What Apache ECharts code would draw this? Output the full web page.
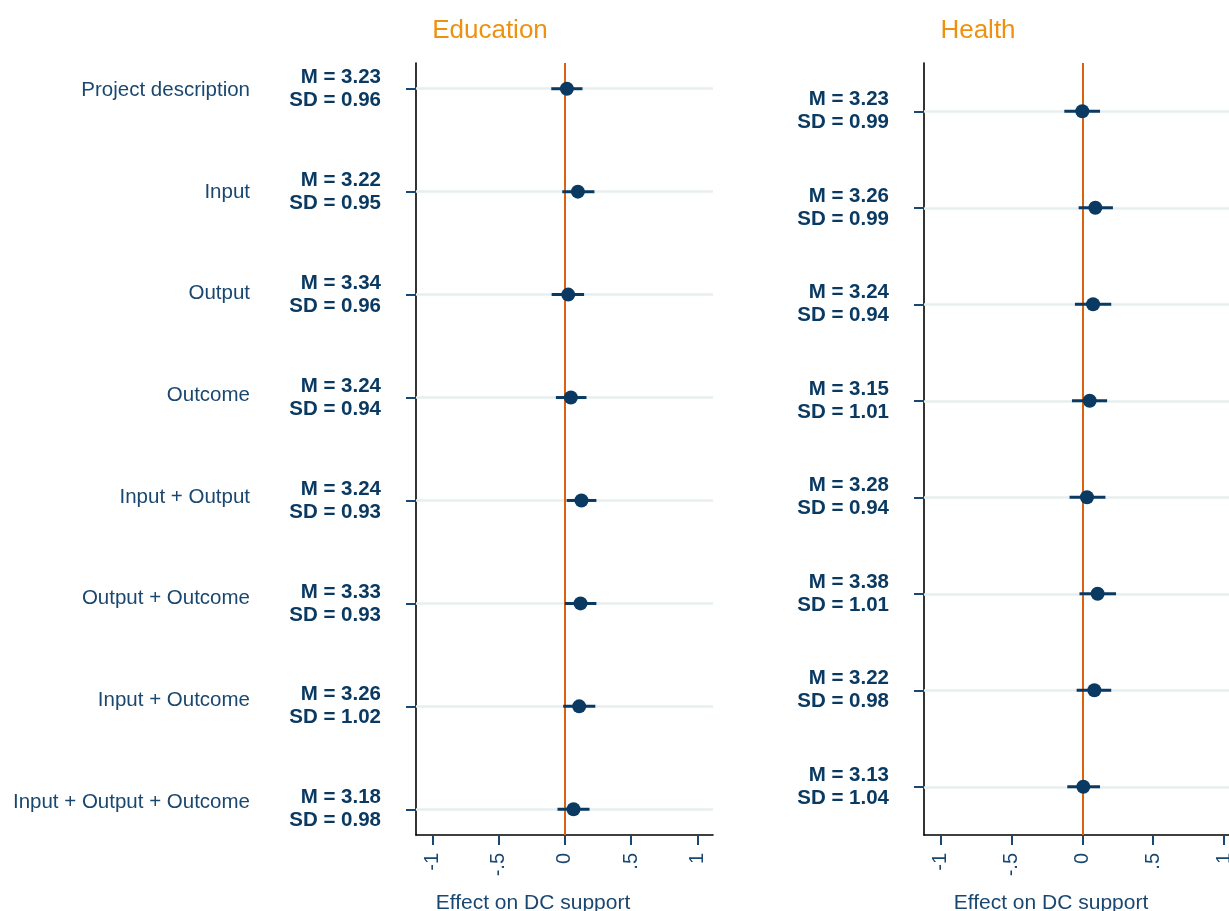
<!DOCTYPE html>
<html><head><meta charset="utf-8">
<script src="https://cdn.jsdelivr.net/npm/echarts@6/dist/echarts.min.js"></script>
<style>html,body{margin:0;padding:0;background:#fff;overflow:hidden}#c{width:1229px;height:911px}</style>
</head><body><div id="c"></div>
<script>
// ---------- data ----------
const categories = ['Project description','Input','Output','Outcome','Input + Output','Output + Outcome','Input + Outcome','Input + Output + Outcome'];
const rows = [1,2,3,4,5,6,7,8];
const panelTitles = ['Education','Health'];
const xAxisTitle = 'Effect on DC support';
const xTickValues = [-1,-0.5,0,0.5,1];
const xTickLabels = ['-1','-.5','0','.5','1'];

const eduMean = [3.23,3.22,3.34,3.24,3.24,3.33,3.26,3.18];
const eduSD   = [0.96,0.95,0.96,0.94,0.93,0.93,1.02,0.98];
const eduEst  = [0.015,0.098,0.025,0.045,0.125,0.118,0.108,0.065];
const eduLo   = [-0.103,-0.02,-0.10,-0.068,0.013,0.0,-0.013,-0.056];
const eduHi   = [0.133,0.223,0.145,0.163,0.238,0.238,0.23,0.186];

const hltMean = [3.23,3.26,3.24,3.15,3.28,3.38,3.22,3.13];
const hltSD   = [0.99,0.99,0.94,1.01,0.94,1.01,0.98,1.04];
const hltEst  = [0.0,0.092,0.076,0.052,0.033,0.108,0.085,0.007];
const hltLo   = [-0.127,-0.026,-0.052,-0.073,-0.09,-0.02,-0.04,-0.106];
const hltHi   = [0.125,0.216,0.204,0.175,0.163,0.238,0.204,0.125];

// ---------- styles ----------
const FONT = '"Liberation Sans", Arial, Helvetica, sans-serif';
const NAVY = '#1a476f';
const DARK = '#0a3a62';
const ORANGE = '#ef9110';
const ZERO = '#dc620f';
const GRIDC = '#e7eeef';

const chart = echarts.init(document.getElementById('c'), null, {renderer:'canvas'});

function xAxisFor(gridIndex, min, max, padRight) {
  return {
    type:'value', gridIndex, min, max,
    axisLine:{show:true, onZero:false, lineStyle:{color:'#000', width:1.6}},
    axisTick:{show:true, customValues:xTickValues, length:10, lineStyle:{color:NAVY, width:2}},
    axisLabel:{show:true, customValues:xTickValues, rotate:90, margin:18, fontSize:20, color:NAVY, fontFamily:FONT,
      formatter: v => xTickLabels[xTickValues.indexOf(v)]},
    splitLine:{show:false},
    name:xAxisTitle, nameLocation:'middle', nameGap:58,
    nameTextStyle:{fontSize:21, color:NAVY, fontFamily:FONT, padding:[0,padRight,0,0]}
  };
}
function statAxis(gridIndex, min, max, means, sds) {
  return {
    type:'value', gridIndex, min, max, inverse:true, position:'left',
    axisLine:{show:true, onZero:false, lineStyle:{color:'#000', width:1.6}},
    axisTick:{show:true, customValues:rows, length:10, lineStyle:{color:NAVY, width:2}},
    axisLabel:{show:true, customValues:rows, margin:35, fontSize:20.5, fontWeight:'bold', lineHeight:23,
      color:DARK, fontFamily:FONT, align:'right', padding:[0,0,10,0],
      formatter: v => 'M = ' + means[v-1].toFixed(2) + '\nSD = ' + sds[v-1].toFixed(2)},
    splitLine:{show:false}
  };
}
function panelSeries(gridIdx, yIdx, est, lo, hi) {
  return [
    {
      type:'scatter', xAxisIndex:gridIdx, yAxisIndex:yIdx, data:[], z:1, silent:true,
      markLine:{
        silent:true, z:1, symbol:['none','none'], label:{show:false}, animation:false,
        data: rows.map(r => ({yAxis:r, lineStyle:{color:GRIDC, width:2.5, type:'solid'}}))
          .concat([{xAxis:0, lineStyle:{color:ZERO, width:2, type:'solid'}}])
      }
    },
    {
      type:'custom', xAxisIndex:gridIdx, yAxisIndex:yIdx, z:10, silent:true,
      data: rows.map((r,i) => [lo[i], hi[i], r]),
      encode:{x:[0,1], y:2},
      renderItem:(params, api) => {
        const a = api.coord([api.value(0), api.value(2)]);
        const b = api.coord([api.value(1), api.value(2)]);
        return {type:'line', shape:{x1:a[0], y1:a[1], x2:b[0], y2:b[1]}, style:{stroke:DARK, lineWidth:3}};
      }
    },
    {
      type:'scatter', xAxisIndex:gridIdx, yAxisIndex:yIdx, z:11, silent:true,
      symbol:'circle', symbolSize:14, itemStyle:{color:DARK, opacity:1},
      data: rows.map((r,i) => [est[i], r])
    }
  ];
}

const option = {
  animation:false,
  backgroundColor:'#fff',
  textStyle:{fontFamily:FONT},
  graphic: panelTitles.map((t,i) => ({
    type:'text', x:[490,978][i], y:31,
    style:{text:t, align:'center', verticalAlign:'middle', fontSize:26, fill:ORANGE, fontFamily:FONT}
  })),
  grid:[
    {left:416, top:63, width:297, height:772, containLabel:false, outerBoundsMode:'none'},
    {left:924, top:63, right:0, height:772, containLabel:false, outerBoundsMode:'none'}
  ],
  xAxis:[
    xAxisFor(0, -1.125, 1.119, 63),
    xAxisFor(1, -1.117, 1.035, 51)
  ],
  yAxis:[
    statAxis(0, 0.75, 8.25, eduMean, eduSD),
    statAxis(1, 0.5, 8.5, hltMean, hltSD),
    {
      type:'value', gridIndex:0, min:0.732, max:8.323, inverse:true, position:'left',
      axisLine:{show:false}, axisTick:{show:false}, splitLine:{show:false},
      axisLabel:{show:true, customValues:rows, margin:166, fontSize:20.5, color:NAVY, fontFamily:FONT,
        align:'right', formatter: v => categories[v-1]}
    }
  ],
  series: panelSeries(0, 0, eduEst, eduLo, eduHi).concat(panelSeries(1, 1, hltEst, hltLo, hltHi))
};
chart.setOption(option);
</script></body></html>
